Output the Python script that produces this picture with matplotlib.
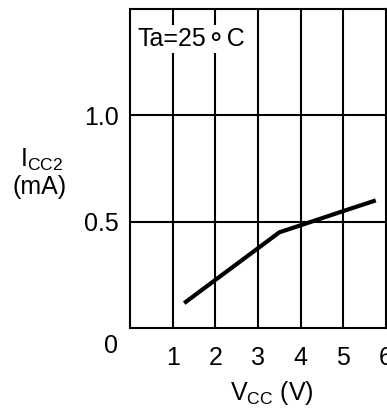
import matplotlib
matplotlib.use('Agg')
import matplotlib.pyplot as plt

# data
vcc = [1.27, 2.0, 3.0, 3.5, 4.0, 5.0, 5.76]
icc2 = [0.117, 0.226, 0.375, 0.45, 0.483, 0.55, 0.60]

xticks = [1, 2, 3, 4, 5, 6]
yticks = [0.5, 1.0]
ytick_labels = ['0.5', '1.0']

plt.rcParams['font.family'] = ['Liberation Sans', 'DejaVu Sans']
plt.rcParams['mathtext.fontset'] = 'custom'
plt.rcParams['mathtext.rm'] = 'Liberation Sans'
plt.rcParams['mathtext.it'] = 'Liberation Sans'

FS = 18

W, H = 387, 412
fig = plt.figure(figsize=(W / 100, H / 100), dpi=100)
ax = fig.add_axes([130 / W, 1 - 328 / H, 256 / W, 319 / H])

ax.set_xlim(0, 6)
ax.set_ylim(0, 1.5)

# grid
for x in xticks[:-1]:
	ax.axvline(x, color='black', lw=1.5, zorder=1)
for y in yticks:
	ax.axhline(y, color='black', lw=1.5, zorder=1)

ax.plot(vcc, icc2, color='black', lw=3.0, solid_capstyle='butt', zorder=3)

for s in ax.spines.values():
	s.set_linewidth(1.5)

ax.set_xticks(xticks)
ax.set_xticklabels([str(x) for x in xticks])
ax.set_yticks(yticks)
ax.set_yticklabels(ytick_labels)
ax.tick_params(length=0, labelsize=FS)
ax.tick_params(axis='x', pad=13)
ax.tick_params(axis='y', pad=8)

ax.annotate('0', xy=(0, 0), xytext=(-14, -13), textcoords='offset points',
	ha='center', va='center', fontsize=FS, annotation_clip=False)

ax.text(0.028, 0.905, 'Ta=25\u26acC', transform=ax.transAxes, fontsize=FS,
	ha='left', va='center', zorder=4,
	bbox=dict(facecolor='white', edgecolor='none', pad=1.5))

fig.text(42 / W, 1 - 160 / H, r'$\mathrm{I_{CC2}}$', fontsize=FS, ha='center', va='center')
fig.text(40 / W, 1 - 187 / H, '(mA)', fontsize=FS, ha='center', va='center')
fig.text(272 / W, 1 - 393 / H, r'$\mathrm{V_{CC}}$ (V)', fontsize=FS, ha='center', va='center')

fig.savefig('out.png', dpi=100)
